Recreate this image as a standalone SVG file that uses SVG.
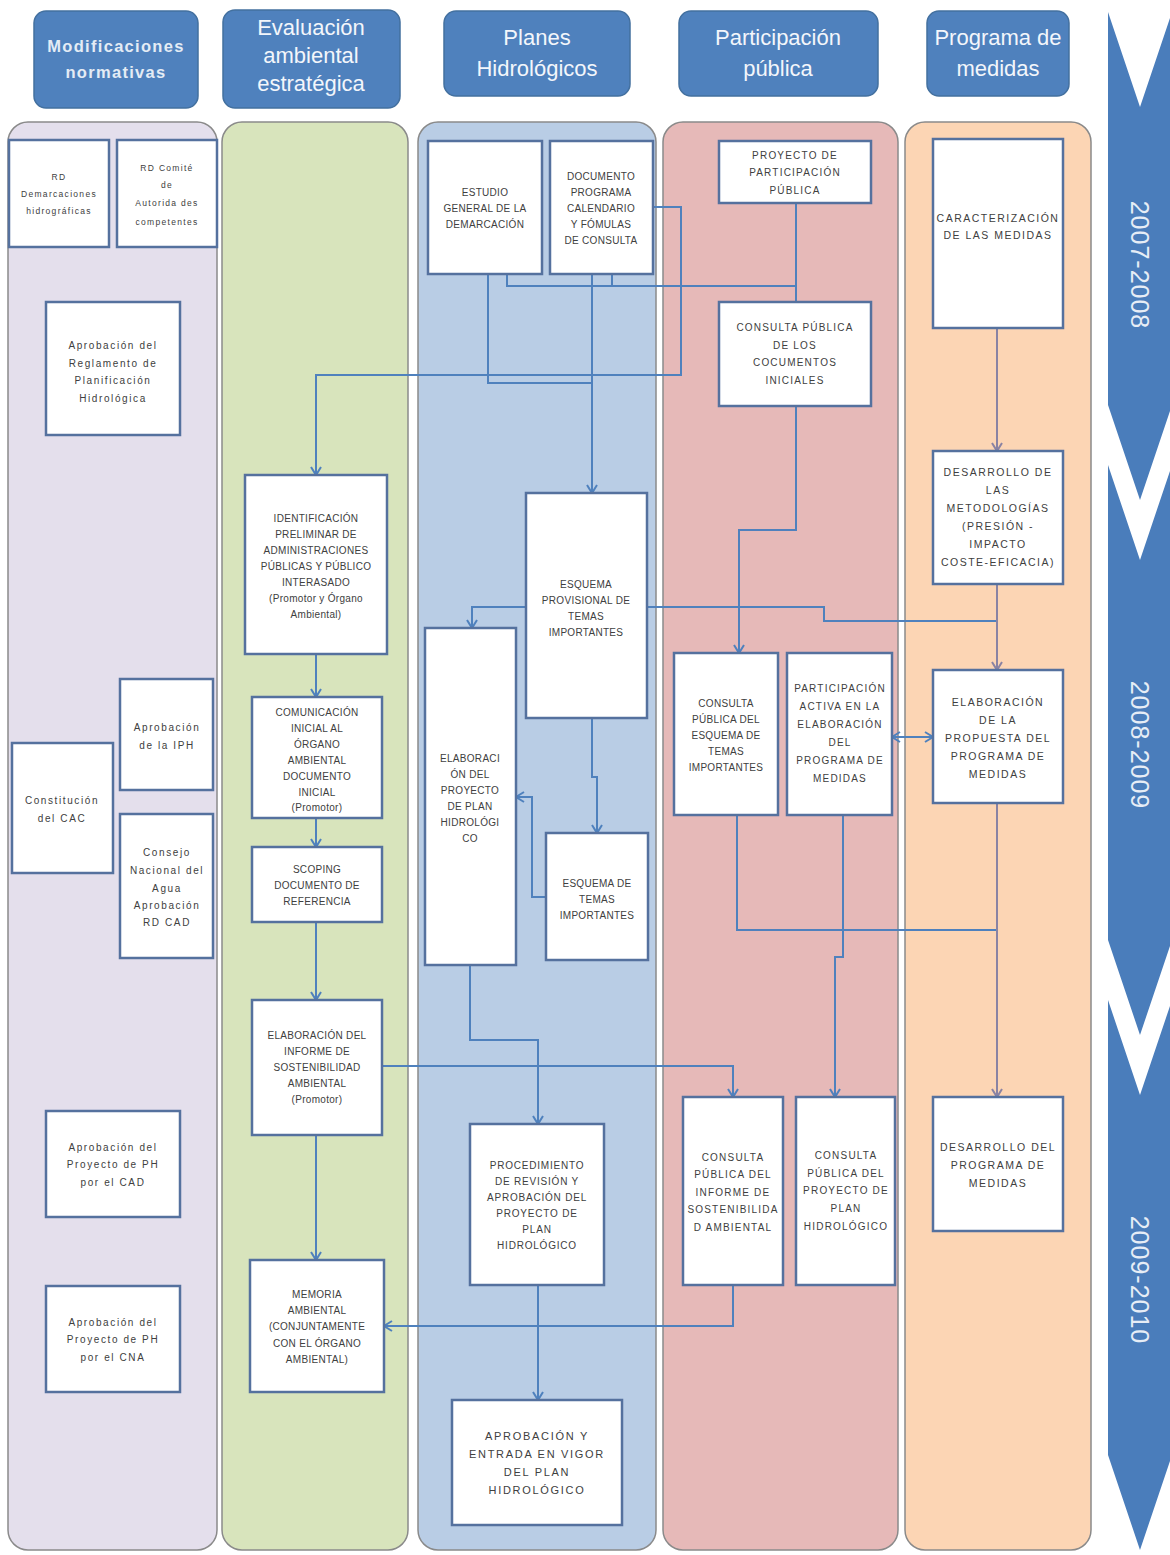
<svg xmlns="http://www.w3.org/2000/svg" width="1170" height="1555" viewBox="0 0 1170 1555">
<style>
.lane{stroke:#8a8a8a;stroke-width:1.5}
.hdr{fill:#4f81bd;stroke:#43709f;stroke-width:1.5}
.ht{font-family:"Liberation Sans",Arial,sans-serif;font-size:22px;fill:#f3f6fb;text-anchor:middle}
.box{fill:#ffffff;stroke:#55719e;stroke-width:2.5}
text{font-family:"Liberation Sans",Arial,sans-serif;fill:#404040;text-anchor:middle;font-size:10px}
.tc{letter-spacing:0.3px}
.tm{letter-spacing:0.8px}
.tw{letter-spacing:1.2px}
.tv{font-size:10.5px;letter-spacing:1.5px}
.tl{letter-spacing:1.6px}
.c{fill:none;stroke:#4f81bd;stroke-width:2}
.cg{fill:none;stroke:#8a83a3;stroke-width:2}
.yr{font-size:25px;fill:#e6edf6;letter-spacing:1px}
</style>
<defs>
<marker id="ab" markerUnits="userSpaceOnUse" markerWidth="14" markerHeight="14" refX="11" refY="7" orient="auto-start-reverse">
<path d="M3,2 L11,7 L3,12" fill="none" stroke="#4f81bd" stroke-width="2"/>
</marker>
<marker id="ag" markerUnits="userSpaceOnUse" markerWidth="14" markerHeight="14" refX="11" refY="7" orient="auto">
<path d="M3,2 L11,7 L3,12" fill="none" stroke="#8a83a3" stroke-width="2"/>
</marker>
</defs>
<rect width="1170" height="1555" fill="#ffffff"/>

<g id="lanes">
<rect class="lane" x="8" y="122" width="209" height="1428" rx="20" fill="#e4dfec"/>
<rect class="lane" x="222" y="122" width="186" height="1428" rx="20" fill="#d8e4bc"/>
<rect class="lane" x="418" y="122" width="238" height="1428" rx="20" fill="#b9cde5"/>
<rect class="lane" x="663" y="122" width="235" height="1428" rx="20" fill="#e6b9b8"/>
<rect class="lane" x="905" y="122" width="186" height="1428" rx="20" fill="#fcd5b4"/>
</g>

<g id="headers">
<g id="h1"><rect class="hdr" x="34" y="11" width="164" height="97" rx="12"/>
<text x="116" y="52" style="font-size:16.5px;font-weight:bold;fill:#e4ecf5;letter-spacing:1.3px">Modificaciones</text>
<text x="116" y="78" style="font-size:16.5px;font-weight:bold;fill:#e4ecf5;letter-spacing:1.3px">normativas</text></g>
<g id="h2"><rect class="hdr" x="223" y="10" width="177" height="98" rx="12"/>
<text class="ht" x="311" y="35">Evaluación</text><text class="ht" x="311" y="63">ambiental</text><text class="ht" x="311" y="91">estratégica</text></g>
<g id="h3"><rect class="hdr" x="444" y="11" width="186" height="85" rx="12"/>
<text class="ht" x="537" y="45">Planes</text><text class="ht" x="537" y="76">Hidrológicos</text></g>
<g id="h4"><rect class="hdr" x="679" y="11" width="199" height="85" rx="12"/>
<text class="ht" x="778" y="45">Participación</text><text class="ht" x="778" y="76">pública</text></g>
<g id="h5"><rect class="hdr" x="927" y="11" width="142" height="85" rx="12"/>
<text class="ht" x="998" y="45">Programa de</text><text class="ht" x="998" y="76">medidas</text></g>
</g>

<g id="timeline">
<polygon points="1108,12 1140,107 1172,12 1172,405 1140,500 1108,405" fill="#4a7dbb"/>
<polygon points="1108,465 1140,560 1172,465 1172,940 1140,1035 1108,940" fill="#4a7dbb"/>
<polygon points="1108,1000 1140,1095 1172,1000 1172,1455 1140,1550 1108,1455" fill="#4a7dbb"/>
<text class="yr" transform="translate(1140,265) rotate(90)" dominant-baseline="central">2007-2008</text>
<text class="yr" transform="translate(1140,745) rotate(90)" dominant-baseline="central">2008-2009</text>
<text class="yr" transform="translate(1140,1280) rotate(90)" dominant-baseline="central">2009-2010</text>
</g>

<g id="connectors">
<path class="c" d="M488,274 V383 H592"/>
<path class="c" d="M592,274 V493" marker-end="url(#ab)"/>
<path class="c" d="M507,274 V286 H796"/>
<path class="c" d="M612,274 V286"/>
<path class="c" d="M796,203 V302"/>
<path class="c" d="M653,207 H681 V375 H316 V475" marker-end="url(#ab)"/>
<path class="c" d="M796,406 V530 H739 V653" marker-end="url(#ab)"/>
<path class="c" d="M526,607 H472 V628" marker-end="url(#ab)"/>
<path class="c" d="M647,607 H824 V621 H997"/>
<path class="c" d="M592,718 V777 H597 V833" marker-end="url(#ab)"/>
<path class="c" d="M546,897 H532 V797 H516" marker-end="url(#ab)"/>
<path class="c" d="M316,654 V697" marker-end="url(#ab)"/>
<path class="c" d="M316,818 V847" marker-end="url(#ab)"/>
<path class="c" d="M316,922 V1000" marker-end="url(#ab)"/>
<path class="c" d="M316,1135 V1260" marker-end="url(#ab)"/>
<path class="c" d="M470,965 V1040 H538 V1124" marker-end="url(#ab)"/>
<path class="c" d="M538,1285 V1400" marker-end="url(#ab)"/>
<path class="c" d="M382,1066 H733 V1097" marker-end="url(#ab)"/>
<path class="c" d="M733,1285 V1326 H384" marker-end="url(#ab)"/>
<path class="c" d="M737,815 V930 H997"/>
<path class="c" d="M843,815 V957 H835 V1097" marker-end="url(#ab)"/>
<path class="c" d="M892,737 H933" marker-start="url(#ab)" marker-end="url(#ab)"/>
<path class="cg" d="M997,328 V451" marker-end="url(#ag)"/>
<path class="cg" d="M997,584 V670" marker-end="url(#ag)"/>
<path class="cg" d="M997,803 V1097" marker-end="url(#ag)"/>
</g>

<g id="n_rd_demarcaciones"><rect class="box" x="9" y="140" width="100" height="107"/>
<text x="59" y="180" style="font-size:8.5px;letter-spacing:1.3px">RD</text><text x="59" y="197" style="font-size:8.5px;letter-spacing:1.3px">Demarcaciones</text><text x="59" y="214" style="font-size:8.5px;letter-spacing:1.3px">hidrográficas</text></g>
<g id="n_rd_comite"><rect class="box" x="117" y="140" width="100" height="107"/>
<text x="167" y="171" style="font-size:8.5px;letter-spacing:1.3px">RD Comité</text><text x="167" y="188" style="font-size:8.5px;letter-spacing:1.3px">de</text><text x="167" y="206" style="font-size:8.5px;letter-spacing:1.3px">Autorida des</text><text x="167" y="225" style="font-size:8.5px;letter-spacing:1.3px">competentes</text></g>
<g id="n_reglamento"><rect class="box" x="46" y="302" width="134" height="133"/>
<text class="tl" x="113" y="349">Aprobación del</text><text class="tl" x="113" y="367">Reglamento de</text><text class="tl" x="113" y="384">Planificación</text><text class="tl" x="113" y="402">Hidrológica</text></g>
<g id="n_iph"><rect class="box" x="120" y="679" width="93" height="111"/>
<text class="tl" x="167" y="731">Aprobación</text><text class="tl" x="167" y="749">de la IPH</text></g>
<g id="n_cac"><rect class="box" x="12" y="743" width="101" height="130"/>
<text class="tl" x="62" y="804">Constitución</text><text class="tl" x="62" y="822">del CAC</text></g>
<g id="n_consejo"><rect class="box" x="120" y="814" width="93" height="144"/>
<text class="tl" x="167" y="856">Consejo</text><text class="tl" x="167" y="874">Nacional del</text><text class="tl" x="167" y="892">Agua</text><text class="tl" x="167" y="909">Aprobación</text><text class="tl" x="167" y="926">RD  CAD</text></g>
<g id="n_ph_cad"><rect class="box" x="46" y="1111" width="134" height="106"/>
<text class="tl" x="113" y="1151">Aprobación del</text><text class="tl" x="113" y="1168">Proyecto de PH</text><text class="tl" x="113" y="1186">por el CAD</text></g>
<g id="n_ph_cna"><rect class="box" x="46" y="1286" width="134" height="106"/>
<text class="tl" x="113" y="1326">Aprobación del</text><text class="tl" x="113" y="1343">Proyecto de PH</text><text class="tl" x="113" y="1361">por el CNA</text></g>

<g id="n_identificacion"><rect class="box" x="245" y="475" width="142" height="179"/>
<text class="tc" x="316" y="522">IDENTIFICACIÓN</text><text class="tc" x="316" y="538">PRELIMINAR DE</text><text class="tc" x="316" y="554">ADMINISTRACIONES</text><text class="tc" x="316" y="570">PÚBLICAS Y PÚBLICO</text><text class="tc" x="316" y="586">INTERASADO</text><text class="tc" x="316" y="602">(Promotor y Órgano</text><text class="tc" x="316" y="618">Ambiental)</text></g>
<g id="n_comunicacion"><rect class="box" x="252" y="697" width="130" height="121"/>
<text class="tc" x="317" y="716">COMUNICACIÓN</text><text class="tc" x="317" y="732">INICIAL AL</text><text class="tc" x="317" y="748">ÓRGANO</text><text class="tc" x="317" y="764">AMBIENTAL</text><text class="tc" x="317" y="780">DOCUMENTO</text><text class="tc" x="317" y="796">INICIAL</text><text class="tc" x="317" y="811">(Promotor)</text></g>
<g id="n_scoping"><rect class="box" x="252" y="847" width="130" height="75"/>
<text class="tc" x="317" y="873">SCOPING</text><text class="tc" x="317" y="889">DOCUMENTO DE</text><text class="tc" x="317" y="905">REFERENCIA</text></g>
<g id="n_informe"><rect class="box" x="252" y="1000" width="130" height="135"/>
<text class="tc" x="317" y="1039">ELABORACIÓN DEL</text><text class="tc" x="317" y="1055">INFORME DE</text><text class="tc" x="317" y="1071">SOSTENIBILIDAD</text><text class="tc" x="317" y="1087">AMBIENTAL</text><text class="tc" x="317" y="1103">(Promotor)</text></g>
<g id="n_memoria"><rect class="box" x="250" y="1260" width="134" height="132"/>
<text class="tc" x="317" y="1298">MEMORIA</text><text class="tc" x="317" y="1314">AMBIENTAL</text><text class="tc" x="317" y="1330">(CONJUNTAMENTE</text><text class="tc" x="317" y="1347">CON EL ÓRGANO</text><text class="tc" x="317" y="1363">AMBIENTAL)</text></g>

<g id="n_estudio"><rect class="box" x="428" y="141" width="114" height="133"/>
<text class="tc" x="485" y="196">ESTUDIO</text><text class="tc" x="485" y="212">GENERAL DE LA</text><text class="tc" x="485" y="228">DEMARCACIÓN</text></g>
<g id="n_documento"><rect class="box" x="550" y="141" width="103" height="133"/>
<text class="tc" x="601" y="180">DOCUMENTO</text><text class="tc" x="601" y="196">PROGRAMA</text><text class="tc" x="601" y="212">CALENDARIO</text><text class="tc" x="601" y="228">Y FÓMULAS</text><text class="tc" x="601" y="244">DE CONSULTA</text></g>
<g id="n_esquema_prov"><rect class="box" x="526" y="493" width="121" height="225"/>
<text class="tc" x="586" y="588">ESQUEMA</text><text class="tc" x="586" y="604">PROVISIONAL DE</text><text class="tc" x="586" y="620">TEMAS</text><text class="tc" x="586" y="636">IMPORTANTES</text></g>
<g id="n_elab_proyecto"><rect class="box" x="425" y="628" width="91" height="337"/>
<text class="tc" x="470" y="762">ELABORACI</text><text class="tc" x="470" y="778">ÓN DEL</text><text class="tc" x="470" y="794">PROYECTO</text><text class="tc" x="470" y="810">DE PLAN</text><text class="tc" x="470" y="826">HIDROLÓGI</text><text class="tc" x="470" y="842">CO</text></g>
<g id="n_esquema_temas"><rect class="box" x="546" y="833" width="102" height="127"/>
<text class="tc" x="597" y="887">ESQUEMA DE</text><text class="tc" x="597" y="903">TEMAS</text><text class="tc" x="597" y="919">IMPORTANTES</text></g>
<g id="n_procedimiento"><rect class="box" x="470" y="1124" width="134" height="161"/>
<text class="tm" x="537" y="1169">PROCEDIMIENTO</text><text class="tm" x="537" y="1185">DE REVISIÓN Y</text><text class="tm" x="537" y="1201">APROBACIÓN DEL</text><text class="tm" x="537" y="1217">PROYECTO DE</text><text class="tm" x="537" y="1233">PLAN</text><text class="tm" x="537" y="1249">HIDROLÓGICO</text></g>
<g id="n_aprobacion"><rect class="box" x="452" y="1400" width="170" height="125"/>
<text x="537" y="1440" style="font-size:11px;letter-spacing:1.7px">APROBACIÓN Y</text><text x="537" y="1458" style="font-size:11px;letter-spacing:1.7px">ENTRADA EN VIGOR</text><text x="537" y="1476" style="font-size:11px;letter-spacing:1.7px">DEL PLAN</text><text x="537" y="1494" style="font-size:11px;letter-spacing:1.7px">HIDROLÓGICO</text></g>

<g id="n_proyecto_part"><rect class="box" x="719" y="141" width="152" height="62"/>
<text class="tw" x="795" y="159">PROYECTO DE</text><text class="tw" x="795" y="176">PARTICIPACIÓN</text><text class="tw" x="795" y="194">PÚBLICA</text></g>
<g id="n_consulta_docs"><rect class="box" x="719" y="302" width="152" height="104"/>
<text class="tw" x="795" y="331">CONSULTA PÚBLICA</text><text class="tw" x="795" y="349">DE LOS</text><text class="tw" x="795" y="366">COCUMENTOS</text><text class="tw" x="795" y="384">INICIALES</text></g>
<g id="n_consulta_esquema"><rect class="box" x="674" y="653" width="104" height="162"/>
<text class="tc" x="726" y="707">CONSULTA</text><text class="tc" x="726" y="723">PÚBLICA DEL</text><text class="tc" x="726" y="739">ESQUEMA DE</text><text class="tc" x="726" y="755">TEMAS</text><text class="tc" x="726" y="771">IMPORTANTES</text></g>
<g id="n_participacion"><rect class="box" x="787" y="653" width="105" height="162"/>
<text class="tw" x="840" y="692">PARTICIPACIÓN</text><text class="tw" x="840" y="710">ACTIVA EN LA</text><text class="tw" x="840" y="728">ELABORACIÓN</text><text class="tw" x="840" y="746">DEL</text><text class="tw" x="840" y="764">PROGRAMA DE</text><text class="tw" x="840" y="782">MEDIDAS</text></g>
<g id="n_consulta_informe"><rect class="box" x="683" y="1097" width="100" height="188"/>
<text class="tw" x="733" y="1161">CONSULTA</text><text class="tw" x="733" y="1178">PÚBLICA DEL</text><text class="tw" x="733" y="1196">INFORME DE</text><text class="tw" x="733" y="1213">SOSTENIBILIDA</text><text class="tw" x="733" y="1231">D AMBIENTAL</text></g>
<g id="n_consulta_proyecto"><rect class="box" x="796" y="1097" width="99" height="188"/>
<text class="tw" x="846" y="1159">CONSULTA</text><text class="tw" x="846" y="1177">PÚBLICA DEL</text><text class="tw" x="846" y="1194">PROYECTO DE</text><text class="tw" x="846" y="1212">PLAN</text><text class="tw" x="846" y="1230">HIDROLÓGICO</text></g>

<g id="n_caracterizacion"><rect class="box" x="933" y="139" width="130" height="189"/>
<text class="tv" x="998" y="222">CARACTERIZACIÓN</text><text class="tv" x="998" y="239">DE LAS MEDIDAS</text></g>
<g id="n_metodologias"><rect class="box" x="933" y="451" width="130" height="133"/>
<text class="tv" x="998" y="476">DESARROLLO DE</text><text class="tv" x="998" y="494">LAS</text><text class="tv" x="998" y="512">METODOLOGÍAS</text><text class="tv" x="998" y="530">(PRESIÓN -</text><text class="tv" x="998" y="548">IMPACTO</text><text class="tv" x="998" y="566">COSTE-EFICACIA)</text></g>
<g id="n_propuesta"><rect class="box" x="933" y="670" width="130" height="133"/>
<text class="tv" x="998" y="706">ELABORACIÓN</text><text class="tv" x="998" y="724">DE LA</text><text class="tv" x="998" y="742">PROPUESTA DEL</text><text class="tv" x="998" y="760">PROGRAMA DE</text><text class="tv" x="998" y="778">MEDIDAS</text></g>
<g id="n_desarrollo_programa"><rect class="box" x="933" y="1097" width="130" height="134"/>
<text class="tv" x="998" y="1151">DESARROLLO DEL</text><text class="tv" x="998" y="1169">PROGRAMA DE</text><text class="tv" x="998" y="1187">MEDIDAS</text></g>
</svg>
